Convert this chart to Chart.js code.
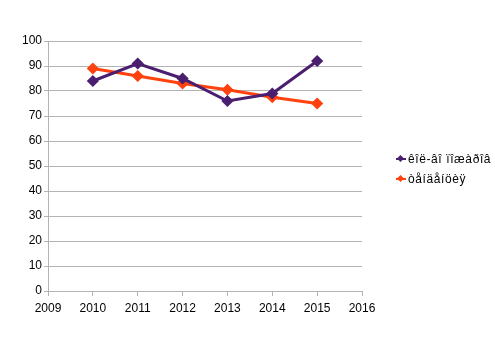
<!DOCTYPE html>
<html>
<head>
<meta charset="utf-8">
<script src="https://cdn.jsdelivr.net/npm/chart.js@4/dist/chart.umd.min.js"></script>
<style>
  html, body { margin: 0; padding: 0; background: #fff; }
  #wrap { position: relative; width: 495px; height: 340px; }
  #legend { position: absolute; left: 396px; top: 151px; font: 12px "Liberation Sans", Arial, sans-serif; color: #000; }
  .item { height: 20px; line-height: 16px; white-space: nowrap; position: relative; padding-left: 12px; letter-spacing: 0.6px; }
  .item .ln { position: absolute; left: 0; top: 7px; width: 10px; height: 2px; }
  .item .dm { position: absolute; left: 2px; top: 5px; width: 5px; height: 5px; transform: rotate(45deg); }
</style>
</head>
<body>
<div id="wrap">
  <canvas id="c" width="495" height="340"></canvas>
  <div id="legend"></div>
</div>
<script>
const years = [2010, 2011, 2012, 2013, 2014, 2015];
const fires = [84, 91, 85, 76, 79, 92];
const trend = [89, 86, 83, 80.5, 77.5, 75];
const seriesNames = ['êîë-âî ïîæàðîâ', 'òåíäåíöèÿ'];
const colors = ['#4b1f6f', '#ff420e'];

function pts(vals){ return years.map((y, i) => ({ x: y, y: vals[i] })); }

const grid = '#b3b3b3';
const tickFont = { family: '"Liberation Sans", Arial, sans-serif', size: 12 };

new Chart(document.getElementById('c'), {
  type: 'line',
  data: {
    datasets: [fires, trend].map((v, i) => ({
      label: seriesNames[i],
      data: pts(v),
      borderColor: colors[i],
      backgroundColor: colors[i],
      borderWidth: 3,
      pointStyle: 'rectRot',
      pointRadius: 4,
      pointHoverRadius: 4,
      tension: 0
    }))
  },
  options: {
    responsive: false,
    animation: false,
    events: [],
    layout: { padding: { top: 41, right: 133, bottom: 0, left: 0 } },
    plugins: { legend: { display: false }, tooltip: { enabled: false } },
    scales: {
      x: {
        type: 'linear', min: 2009, max: 2016,
        afterFit: s => { s.height = 49; },
        ticks: { stepSize: 1, color: '#000', font: tickFont, padding: 5, callback: v => String(v) },
        grid: { drawOnChartArea: false, color: grid, tickLength: 5 },
        border: { color: grid }
      },
      y: {
        min: 0, max: 100,
        afterFit: s => { s.width = 48; },
        ticks: { stepSize: 10, color: '#000', font: tickFont, padding: 2 },
        grid: { color: grid, tickLength: 4 },
        border: { color: grid }
      }
    }
  }
});

const legend = document.getElementById('legend');
seriesNames.forEach((n, i) => {
  const d = document.createElement('div');
  d.className = 'item';
  d.innerHTML = `<span class="ln" style="background:${colors[i]}"></span><span class="dm" style="background:${colors[i]}"></span>${n}`;
  legend.appendChild(d);
});
</script>
</body>
</html>
